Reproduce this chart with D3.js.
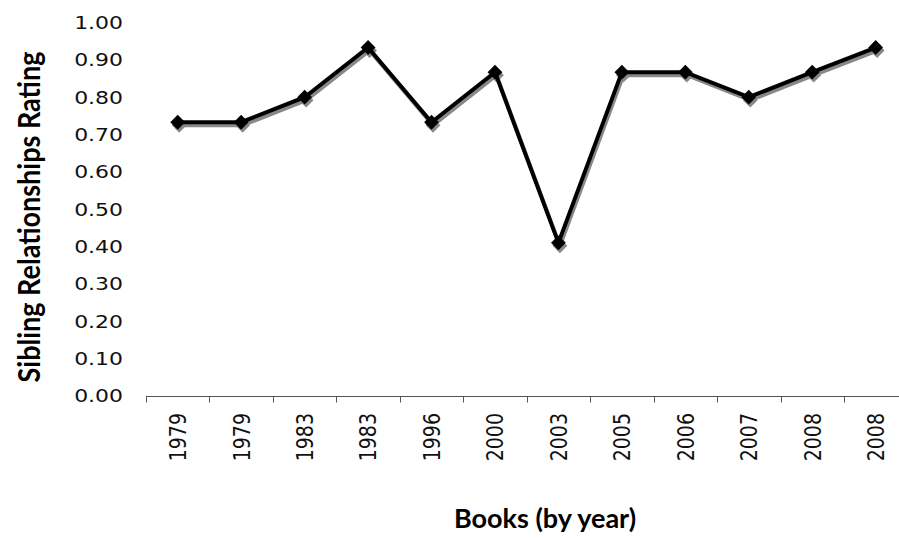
<!DOCTYPE html>
<html>
<head>
<meta charset="utf-8">
<script src="https://cdn.jsdelivr.net/npm/d3@7"></script>
<style>
  body { margin: 0; background: #fff; }
  svg { display: block; }
</style>
</head>
<body>
<div id="chart"></div>
<script>
// book years (categories) and their ratings
var books = ["1979", "1979", "1983", "1983", "1996", "2000", "2003", "2005", "2006", "2007", "2008", "2008"];
var ratings = [0.733, 0.733, 0.80, 0.933, 0.733, 0.867, 0.41, 0.867, 0.867, 0.80, 0.867, 0.933];
var yTicks = [0, 0.1, 0.2, 0.3, 0.4, 0.5, 0.6, 0.7, 0.8, 0.9, 1.0];

var width = 899, height = 538;
var stretch = 1.22; // text in the original is a bit wide

var svg = d3.select("#chart")
  .append("svg")
  .attr("width", width)
  .attr("height", height);

var data = books.map(function(b, i) { return { key: i, label: b, value: ratings[i] }; });

var x = d3.scaleBand()
  .domain(d3.range(books.length))
  .range([146, 907.4]);

var y = d3.scaleLinear()
  .domain([0, 1])
  .range([396, 22.5]);

// x axis
var xAxis = svg.append("g")
  .attr("transform", "translate(0,396.5)");
xAxis.append("line")
  .attr("x1", x.range()[0]).attr("x2", x.range()[1])
  .attr("stroke", "#555").attr("stroke-width", 1);
xAxis.selectAll("line.tick")
  .data(d3.range(books.length + 1))
  .enter().append("line")
  .attr("class", "tick")
  .attr("x1", function(d) { return Math.round(x.range()[0] + d * x.step()) + 0.5; })
  .attr("x2", function(d) { return Math.round(x.range()[0] + d * x.step()) + 0.5; })
  .attr("y1", 0).attr("y2", 6)
  .attr("stroke", "#555");

svg.append("g").selectAll("text")
  .data(data)
  .enter().append("text")
  .attr("transform", function(d) {
    return "translate(" + (x(d.key) + x.bandwidth() / 2) + ",413) scale(" + stretch + ",1) rotate(-90)";
  })
  .attr("text-anchor", "end")
  .attr("dy", "0.36em")
  .style("font-family", "'DejaVu Sans', Verdana, sans-serif")
  .style("font-size", "19px")
  .attr("fill", "#111")
  .text(function(d) { return d.label; });

// y tick labels (no axis line)
svg.append("g").selectAll("text")
  .data(yTicks)
  .enter().append("text")
  .attr("transform", function(d) {
    return "translate(123," + y(d) + ") scale(" + stretch + ",1)";
  })
  .attr("dy", "0.36em")
  .attr("text-anchor", "end")
  .style("font-family", "'DejaVu Sans', Verdana, sans-serif")
  .style("font-size", "18px")
  .attr("fill", "#111")
  .text(function(d) { return d3.format(".2f")(d); });

// axis titles
svg.append("text")
  .attr("x", 545).attr("y", 528)
  .attr("text-anchor", "middle")
  .style("font-family", "Lato, 'Open Sans', sans-serif")
  .style("font-weight", "bold")
  .style("font-size", "27px")
  .text("Books (by year)");

svg.append("text")
  .attr("transform", "translate(40,217) scale(1.15,1) rotate(-90)")
  .attr("text-anchor", "middle")
  .style("font-family", "Lato, 'Open Sans', sans-serif")
  .style("font-weight", "bold")
  .style("font-size", "27px")
  .text("Sibling Relationships Rating");

var line = d3.line()
  .x(function(d) { return x(d.key) + x.bandwidth() / 2; })
  .y(function(d) { return y(d.value); });

var diamond = d3.symbol().type(d3.symbolDiamond2).size(140);

// shadow
var shadow = svg.append("g").attr("transform", "translate(1.5,3)");
shadow.append("path")
  .datum(data)
  .attr("d", line)
  .attr("fill", "none")
  .attr("stroke", "#888")
  .attr("stroke-width", 4);
shadow.selectAll("path.m")
  .data(data)
  .enter().append("path")
  .attr("class", "m")
  .attr("d", diamond)
  .attr("transform", function(d) {
    return "translate(" + (x(d.key) + x.bandwidth() / 2) + "," + y(d.value) + ")";
  })
  .attr("fill", "#888");

// series
svg.append("path")
  .datum(data)
  .attr("d", line)
  .attr("fill", "none")
  .attr("stroke", "#000")
  .attr("stroke-width", 4);
svg.selectAll("path.marker")
  .data(data)
  .enter().append("path")
  .attr("class", "marker")
  .attr("d", diamond)
  .attr("transform", function(d) {
    return "translate(" + (x(d.key) + x.bandwidth() / 2) + "," + y(d.value) + ")";
  })
  .attr("fill", "#000");
</script>
</body>
</html>
